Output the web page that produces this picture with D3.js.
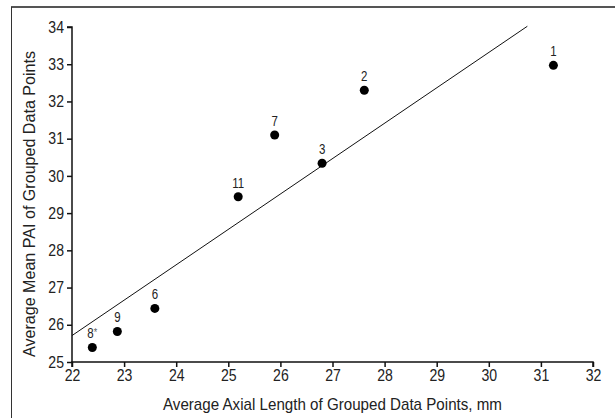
<!DOCTYPE html>
<html>
<head>
<meta charset="utf-8">
<script src="https://cdn.jsdelivr.net/npm/d3@7"></script>
<style>
  body { margin: 0; background: #fff; }
  text { font-family: "Liberation Sans", Arial, sans-serif; fill: #222; }
</style>
</head>
<body>
<div id="chart"></div>
<script>
/* DATA */
const groups = ["1", "2", "3", "6", "7", "8", "9", "11"];
const axialLength = [31.24, 27.61, 26.80, 23.59, 25.89, 22.39, 22.87, 25.19];
const meanPAI = [32.97, 32.30, 30.34, 26.44, 31.10, 25.39, 25.82, 29.44];
const fitX = [22, 30.74];
const fitY = [25.71, 34.02];
const xTicks = [22, 23, 24, 25, 26, 27, 28, 29, 30, 31, 32];
const yTicks = [25, 26, 27, 28, 29, 30, 31, 32, 33, 34];

const width = 615,
  height = 418,
  margin = { top: 27, bottom: 56, left: 72, right: 22 },
  narrow = 0.88; // squeeze text a bit, the original uses a condensed face

const svg = d3.select("#chart")
  .append("svg")
  .attr("width", width)
  .attr("height", height);

// outer frame
svg.append("line")
  .attr("x1", 11).attr("x2", width).attr("y1", 7).attr("y2", 7)
  .attr("stroke", "#555").attr("stroke-width", 2);
svg.append("line")
  .attr("x1", 11.5).attr("x2", 11.5).attr("y1", 7).attr("y2", height)
  .attr("stroke", "#333").attr("stroke-width", 1);

// + SCALES
const xScale = d3.scaleLinear()
  .domain([22, 32])
  .range([margin.left, width - margin.right]);

const yScale = d3.scaleLinear()
  .domain([25, 34])
  .range([height - margin.bottom, margin.top]);

// + AXES
const xAxis = d3.axisBottom(xScale).tickValues(xTicks).tickSize(5).tickPadding(3);
const yAxis = d3.axisLeft(yScale).tickValues(yTicks).tickSize(5).tickPadding(3);

const xAxisGroup = svg.append("g")
  .attr("transform", `translate(0, ${height - margin.bottom})`)
  .call(xAxis);
xAxisGroup.select(".domain").attr("d", `M${xScale(22)},5V0H${xScale(32)}V5`);

const yAxisGroup = svg.append("g")
  .attr("transform", `translate(${margin.left}, 0)`)
  .call(yAxis);
yAxisGroup.select(".domain").attr("d", `M-5,${yScale(34)}H0V${yScale(25)}`);

svg.selectAll(".tick text")
  .attr("font-size", 16)
  .attr("fill", "#222")
  .attr("font-family", "Liberation Sans, Arial, sans-serif");
xAxisGroup.selectAll(".tick text").attr("transform", `scale(${narrow},1)`);
yAxisGroup.selectAll(".tick text")
  .attr("x", -8 / narrow)
  .attr("transform", `scale(${narrow},1)`);
svg.selectAll(".domain, .tick line").attr("stroke", "#111").attr("stroke-width", 1.5);

// axis titles
svg.append("text")
  .attr("x", (xScale(22) + xScale(32)) / 2)
  .attr("y", 410)
  .attr("text-anchor", "middle")
  .attr("font-size", 17)
  .attr("textLength", 339)
  .attr("lengthAdjust", "spacingAndGlyphs")
  .text("Average Axial Length of Grouped Data Points, mm");

svg.append("text")
  .attr("transform", `translate(35, 204) rotate(-90)`)
  .attr("text-anchor", "middle")
  .attr("font-size", 17)
  .attr("textLength", 306)
  .attr("lengthAdjust", "spacingAndGlyphs")
  .text("Average Mean PAI of Grouped Data Points");

// + REGRESSION LINE
const lineGen = d3.line()
  .x(d => xScale(d[0]))
  .y(d => yScale(d[1]));

svg.append("path")
  .datum(d3.zip(fitX, fitY))
  .attr("fill", "none")
  .attr("stroke", "#111")
  .attr("stroke-width", 1)
  .attr("d", lineGen);

// + POINTS
const points = groups.map((g, i) => ({ group: g, x: axialLength[i], y: meanPAI[i] }));

svg.selectAll("circle.pt")
  .data(points)
  .join("circle")
  .attr("class", "pt")
  .attr("cx", d => xScale(d.x))
  .attr("cy", d => yScale(d.y))
  .attr("r", 4.5)
  .attr("fill", "#000");

const labels = svg.selectAll("text.lbl")
  .data(points)
  .join("text")
  .attr("class", "lbl")
  .attr("transform", d => `translate(${xScale(d.x)}, ${yScale(d.y) - 9}) scale(0.82,1)`)
  .attr("text-anchor", "middle")
  .attr("font-size", 14);

labels.append("tspan").text(d => d.group);
labels.filter(d => d.group === "8")
  .append("tspan")
  .attr("font-size", 11)
  .attr("dy", -2)
  .attr("fill", "#666")
  .text("*");
</script>
</body>
</html>
